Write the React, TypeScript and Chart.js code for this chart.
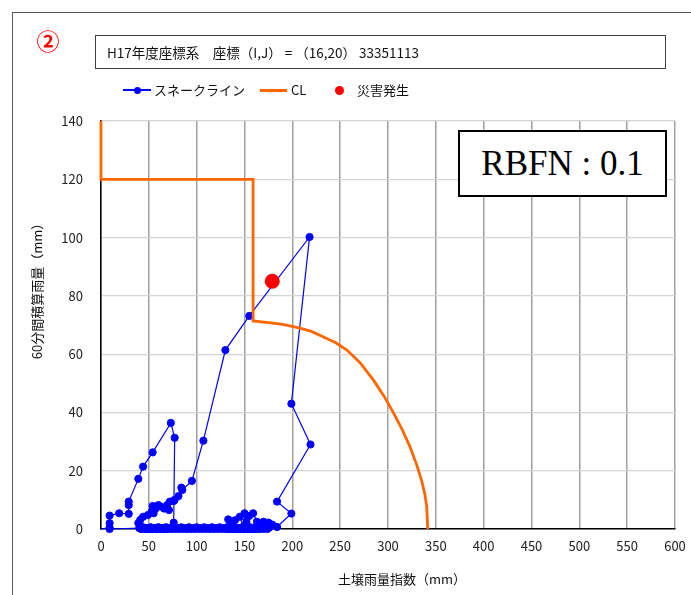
import React, { useEffect, useRef } from "react";
import { Chart, registerables } from "chart.js";

Chart.register(...registerables);

// スネークライン (土壌雨量指数, 60分間積算雨量)
const snakeX = [
  0, 9, 9, 9, 19, 29, 29, 29, 39, 44, 54, 73, 77, 76, 74,
  72, 70, 68, 66, 64, 62, 60, 58, 56, 54, 52, 50, 48, 46, 44, 42, 41,
  39, 41, 44, 49, 53, 55, 54, 57, 60, 62, 66, 69, 71, 72, 76, 77, 81, 84, 85, 95, 107, 130, 155, 218, 199, 219, 184, 199, 184, 179, 175, 171, 167,
  165, 163, 161, 159, 157, 155, 153, 151, 149, 147, 145, 143, 141, 139, 137, 135, 133, 131,
  133, 137, 140, 145, 149, 150, 152, 155, 159, 163, 167, 170, 172, 176,
  174, 172, 170, 168, 166, 164, 162, 160, 158, 156, 154, 152, 150, 148, 146, 144, 142, 140, 138, 136, 134, 132, 130, 128, 126, 124, 122, 120, 118, 116, 114, 112, 110, 108, 106, 104, 102, 100, 98, 96, 94, 92, 90, 88, 86, 84, 82, 80, 78, 76, 74, 72, 70, 68, 66, 64, 62, 60, 58, 56, 54, 52, 50, 48, 46, 44, 42, 40, 9,
];
const snakeY = [
  0, 0.5, 2, 4.6, 5.4, 5.2, 8.2, 9.4, 17.2, 21.4, 26.3, 36.4, 31.3, 2.2, 0.5,
  0.3, 0, 0.5, 0, 0.3, 0, 0.5, 0, 0.3, 0, 0.5, 0, 0.3, 0, 0.5, 0, 0.8,
  2, 3.1, 4.2, 4.8, 6, 5.4, 7.9, 7, 8.2, 7.7, 7, 8.2, 6.5, 9.4, 9.6, 10, 11.3, 14.2, 13.4, 16.5, 30.3, 61.4, 73.1, 100.2, 43, 29, 9.4, 5.3, 0.7, 1.5, 2.2, 0.5, 0.3,
  0, 0.5, 0, 0.3, 0, 0.5, 0, 0.3, 0, 0.5, 0, 0.3, 0, 0.5, 0, 0.3, 0, 0.5,
  3.3, 2, 3, 4.2, 0.8, 5.4, 2.5, 4.5, 5.4, 2.5, 1.5, 2.5, 0.8, 0.5,
  0, 0.6, 0, 0.3, 0, 0.6, 0, 0.3, 0, 0.6, 0, 0.3, 0, 0.6, 0, 0.3, 0, 0.6, 0, 0.3, 0, 0.6, 0, 0.3, 0, 0.6, 0, 0.3, 0, 0.6, 0, 0.3, 0, 0.6, 0, 0.3, 0, 0.6, 0, 0.3, 0, 0.6, 0, 0.3, 0, 0.6, 0, 0.3, 0, 0.6, 0, 0.3, 0, 0.6, 0, 0.3, 0, 0.6, 0, 0.3, 0, 0.6, 0, 0.3, 0, 0.6, 0, 0.3, 0,
];

// CL (critical line)
const clX = [0, 0, 159, 159, 175, 190, 208, 220, 232, 245, 257, 271, 285, 296, 306, 315, 323, 330, 335, 338.5, 340.5, 341.5];
const clY = [140, 120, 120, 71.4, 70.8, 70.2, 68.9, 67.8, 66, 64, 61.4, 57, 51, 45.5, 39.7, 34, 28.2, 22, 16.8, 12, 7.7, 0];

// 災害発生
const disasterX = [179];
const disasterY = [85];

const xMin = 0;
const xMax = 600;
const xStep = 50;
const yMin = 0;
const yMax = 140;
const yStep = 20;

const titleText = "H17年度座標系　座標（I,J） = （16,20） 33351113";
const xTitle = "土壌雨量指数（mm）";
const yTitle = "60分間積算雨量（mm）";
const rbfnText = "RBFN : 0.1";

const SANS = '"Noto Sans CJK JP", "Noto Sans", sans-serif';

const pts = (xs: number[], ys: number[]) => xs.map((x, i) => ({ x, y: ys[i] }));

export default function App() {
  const ref = useRef<HTMLCanvasElement>(null);

  useEffect(() => {
    if (!ref.current) return;
    const chart = new Chart(ref.current, {
      type: "scatter",
      data: {
        datasets: [
          {
            label: "災害発生",
            data: pts(disasterX, disasterY),
            pointRadius: 7.5,
            pointBackgroundColor: "#ff0000",
            pointBorderColor: "#ff0000",
            pointBorderWidth: 0,
            showLine: false,
            clip: false,
          } as any,
          {
            label: "CL",
            data: pts(clX, clY),
            showLine: true,
            borderColor: "#ff6600",
            borderWidth: 2.8,
            pointRadius: 0,
            tension: 0,
            clip: false,
          } as any,
          {
            label: "スネークライン",
            data: pts(snakeX, snakeY),
            showLine: true,
            borderColor: "#0000ff",
            borderWidth: 1.2,
            pointRadius: (ctx: any) => (ctx.dataIndex === 0 ? 0 : 3.6),
            pointBackgroundColor: "#0000ff",
            pointBorderColor: "#0000ff",
            pointBorderWidth: 1,
            tension: 0,
            clip: false,
          } as any,
        ],
      },
      options: {
        animation: false,
        responsive: false,
        layout: { padding: { left: 20, top: 121, right: 16, bottom: 0 } },
        plugins: { legend: { display: false }, tooltip: { enabled: false } },
        scales: {
          x: {
            type: "linear",
            min: xMin,
            max: xMax,
            ticks: { stepSize: xStep, padding: 9, color: "#222", font: { family: SANS, size: 13 } },
            grid: { color: "#a0a0a0", lineWidth: 1.5, drawTicks: false },
            border: { color: "#000", width: 1.5 },
            afterFit: (s: any) => {
              s.height = 66;
              s.paddingLeft = 0;
              s.paddingRight = 0;
            },
          },
          y: {
            type: "linear",
            min: yMin,
            max: yMax,
            ticks: { stepSize: yStep, padding: 18, color: "#222", font: { family: SANS, size: 13 } },
            grid: { color: "#d4d4d4", lineWidth: 1.2, drawTicks: false },
            border: { color: "#000", width: 1.5 },
            afterFit: (s: any) => {
              s.width = 81;
              s.paddingTop = 0;
              s.paddingBottom = 0;
            },
          },
        },
      },
    });
    return () => chart.destroy();
  }, []);

  const abs = (o: React.CSSProperties): React.CSSProperties => ({ position: "absolute", ...o });

  return (
    <div style={{ position: "absolute", left: 0, top: 0, width: 691, height: 595, overflow: "hidden", background: "#fff" }}>
      <canvas ref={ref} width={691} height={595} style={{ position: "absolute", left: 0, top: 0, width: 691, height: 595 }} />
      <div style={abs({ left: 12, top: 12, width: 700, height: 600, borderLeft: "1px solid #595959", borderTop: "1px solid #595959" })} />
      <div style={abs({ left: 36, top: 28, width: 24, height: 24, lineHeight: "24px", textAlign: "center", fontSize: 23, fontWeight: "bold", color: "#ff0000", fontFamily: SANS })}>②</div>
      <div style={abs({ left: 95, top: 35, width: 571, height: 34, boxSizing: "border-box", border: "1px solid #404040", paddingLeft: 11, display: "flex", alignItems: "center", fontSize: 13.5, fontFamily: SANS, color: "#111", background: "#fff" })}>{titleText}</div>

      {/* legend */}
      <div style={abs({ left: 123, top: 89, width: 28, height: 1.5, background: "#0000ff" })} />
      <div style={abs({ left: 133.5, top: 86.5, width: 7, height: 7, borderRadius: "50%", background: "#0000ff" })} />
      <div style={abs({ left: 154, top: 81, lineHeight: "18px", fontSize: 13, fontFamily: SANS, color: "#111" })}>スネークライン</div>
      <div style={abs({ left: 260, top: 88.5, width: 27, height: 3, background: "#ff6600" })} />
      <div style={abs({ left: 291, top: 81, lineHeight: "18px", fontSize: 13, fontFamily: SANS, color: "#111" })}>CL</div>
      <div style={abs({ left: 334.5, top: 85.5, width: 9, height: 9, borderRadius: "50%", background: "#ff0000" })} />
      <div style={abs({ left: 357, top: 81, lineHeight: "18px", fontSize: 13, fontFamily: SANS, color: "#111" })}>災害発生</div>

      {/* RBFN box */}
      <div style={abs({ left: 458, top: 130, width: 209, height: 67, boxSizing: "border-box", border: "2px solid #000", background: "#fff", display: "flex", alignItems: "center", justifyContent: "center", fontFamily: '"Liberation Serif", "DejaVu Serif", serif', fontSize: 35, color: "#000" })}>{rbfnText}</div>

      {/* axis titles */}
      <div style={abs({ left: 402 - 100, top: 570, width: 200, lineHeight: "18px", textAlign: "center", fontSize: 13, fontFamily: SANS, color: "#111" })}>{xTitle}</div>
      <div style={abs({ left: 37 - 100, top: 288 - 9, width: 200, lineHeight: "18px", textAlign: "center", fontSize: 13, fontFamily: SANS, color: "#111", transform: "rotate(-90deg)", transformOrigin: "50% 50%" })}>{yTitle}</div>
    </div>
  );
}
